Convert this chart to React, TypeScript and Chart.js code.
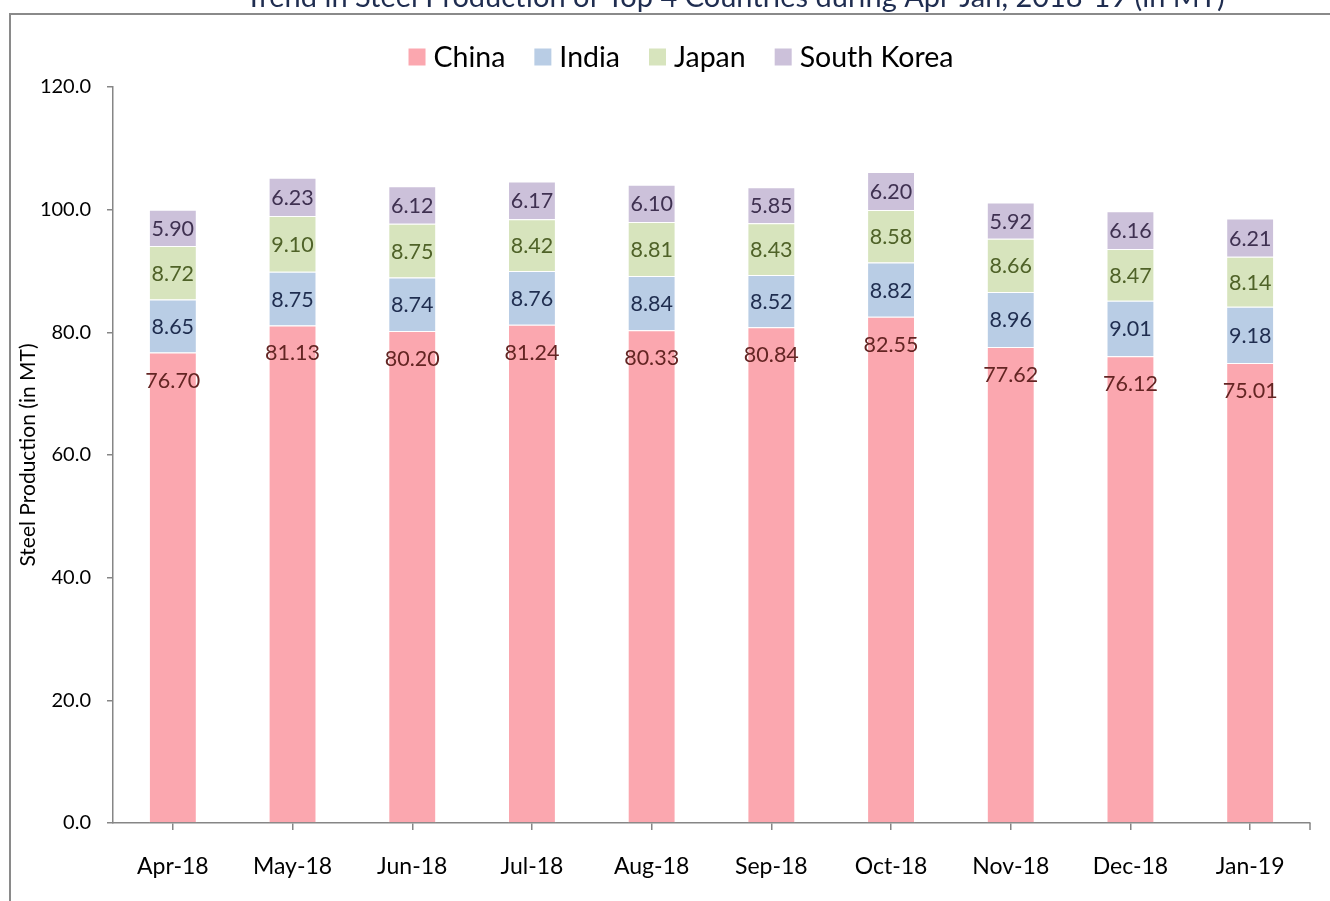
import React, { useEffect, useRef } from "react";
import { Chart, registerables } from "chart.js";

Chart.register(...registerables);

const TITLE = "Trend in Steel Production of Top 4 Countries during Apr-Jan, 2018-19 (in MT)";
const Y_TITLE = "Steel Production (in MT)";
const months = ["Apr-18", "May-18", "Jun-18", "Jul-18", "Aug-18", "Sep-18", "Oct-18", "Nov-18", "Dec-18", "Jan-19"];
const china = [76.70, 81.13, 80.20, 81.24, 80.33, 80.84, 82.55, 77.62, 76.12, 75.01];
const india = [8.65, 8.75, 8.74, 8.76, 8.84, 8.52, 8.82, 8.96, 9.01, 9.18];
const japan = [8.72, 9.10, 8.75, 8.42, 8.81, 8.43, 8.58, 8.66, 8.47, 8.14];
const southKorea = [5.90, 6.23, 6.12, 6.17, 6.10, 5.85, 6.20, 5.92, 6.16, 6.21];
const seriesNames = ["China", "India", "Japan", "South Korea"];
const seriesValues = [china, india, japan, southKorea];
const barColors = ["#FBA7AF", "#B9CDE5", "#D7E4BD", "#CCC1DA"];
const labelColors = ["#632523", "#1F2D4F", "#4F6228", "#3F3151"];

const FONT = "Lato, 'Open Sans', sans-serif";
const AXIS = "#868686";

const decorPlugin = {
  id: "decor",
  afterDraw(chart: any) {
    const ctx = chart.ctx;
    const area = chart.chartArea;
    ctx.save();
    // frame
    ctx.strokeStyle = "#8A8A8A";
    ctx.lineWidth = 2;
    ctx.beginPath();
    ctx.moveTo(1330, 14);
    ctx.lineTo(10, 14);
    ctx.lineTo(10, 901);
    ctx.stroke();
    // title (cut off at top)
    ctx.fillStyle = "#1F2D50";
    ctx.font = `29px ${FONT}`;
    ctx.textAlign = "center";
    ctx.textBaseline = "alphabetic";
    ctx.fillText(TITLE, 735, 7);
    // y title
    ctx.save();
    ctx.translate(28, (area.top + area.bottom) / 2);
    ctx.rotate(-Math.PI / 2);
    ctx.fillStyle = "#000";
    ctx.font = `21px ${FONT}`;
    ctx.textAlign = "center";
    ctx.textBaseline = "middle";
    ctx.fillText(Y_TITLE, 0, 0);
    ctx.restore();
    // end tick on x axis
    ctx.strokeStyle = AXIS;
    ctx.lineWidth = 1.5;
    ctx.beginPath();
    ctx.moveTo(area.right, area.bottom);
    ctx.lineTo(area.right, area.bottom + 7);
    ctx.stroke();
    // legend
    ctx.font = `28.5px ${FONT}`;
    ctx.textBaseline = "middle";
    ctx.textAlign = "left";
    const box = 17, gap = 8, spacing = 29;
    const widths = seriesNames.map((n) => ctx.measureText(n).width);
    const total = widths.reduce((a, w) => a + box + gap + w, 0) + spacing * (seriesNames.length - 1);
    let x = 681 - total / 2;
    const cy = 57;
    seriesNames.forEach((n, i) => {
      ctx.fillStyle = barColors[i];
      ctx.fillRect(x, cy - box / 2, box, box);
      ctx.fillStyle = "#000";
      ctx.fillText(n, x + box + gap, cy + 1);
      x += box + gap + widths[i] + spacing;
    });
    // data labels
    ctx.font = `21.5px ${FONT}`;
    ctx.textAlign = "center";
    ctx.textBaseline = "middle";
    chart.data.datasets.forEach((ds: any, di: number) => {
      const meta = chart.getDatasetMeta(di);
      meta.data.forEach((bar: any, i: number) => {
        const v = ds.data[i];
        const y = di === 0 ? bar.y + 27 : (bar.y + bar.base) / 2;
        ctx.fillStyle = labelColors[di];
        ctx.fillText(v.toFixed(2), bar.x, y + 1);
      });
    });
    ctx.restore();
  },
};

export default function App() {
  const ref = useRef<HTMLCanvasElement>(null);
  useEffect(() => {
    if (!ref.current) return;
    const chart = new Chart(ref.current, {
      type: "bar",
      data: {
        labels: months,
        datasets: seriesValues.map((vals, i) => ({
          label: seriesNames[i],
          data: vals,
          backgroundColor: barColors[i],
          borderColor: "#FFFFFF",
          borderWidth: 1,
          barPercentage: 0.4,
          categoryPercentage: 1,
        })),
      },
      options: {
        responsive: false,
        animation: false,
        layout: { padding: { top: 87, left: 10, right: 20, bottom: 0 } },
        plugins: { legend: { display: false }, title: { display: false }, tooltip: { enabled: false } },
        scales: {
          x: {
            stacked: true,
            offset: true,
            grid: { display: true, drawOnChartArea: false, drawTicks: true, tickLength: 7, color: AXIS, lineWidth: 1.5, offset: false },
            border: { display: true, color: AXIS, width: 1.5 },
            ticks: { color: "#000", font: { family: FONT, size: 23 }, padding: 23, maxRotation: 0 },
            afterFit: (s: any) => { s.height = 78; s.paddingLeft = 0; s.paddingRight = 0; },
          },
          y: {
            stacked: true,
            min: 0,
            max: 120,
            grid: { display: true, drawOnChartArea: false, drawTicks: true, tickLength: 6, color: AXIS, lineWidth: 1.5 },
            border: { display: true, color: AXIS, width: 1.5 },
            ticks: { stepSize: 20, color: "#000", font: { family: FONT, size: 20 }, padding: 16, callback: (v: any) => Number(v).toFixed(1) },
            afterFit: (s: any) => { s.width = 103; s.paddingTop = 0; s.paddingBottom = 0; },
          },
        },
      },
      plugins: [decorPlugin],
    });
    return () => chart.destroy();
  }, []);
  return (
    <div style={{ position: "absolute", left: 0, top: 0, width: 1330, height: 901, background: "#fff" }}>
      <canvas ref={ref} width={1330} height={901} style={{ display: "block" }} />
    </div>
  );
}
